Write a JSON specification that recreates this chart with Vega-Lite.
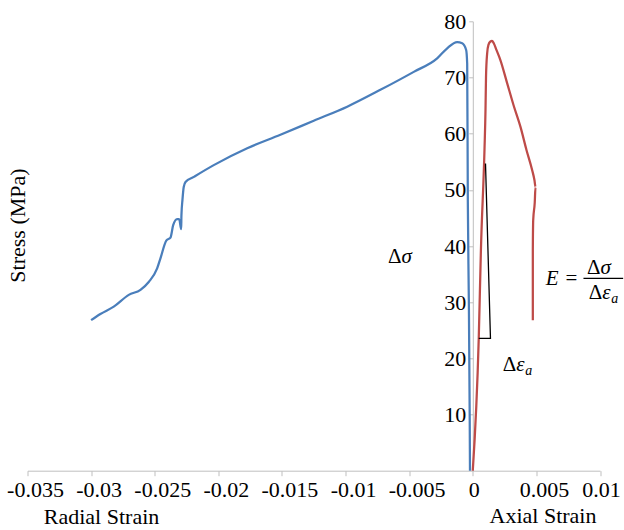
{
  "$schema": "https://vega.github.io/schema/vega-lite/v6.json",
  "width": 572.5,
  "height": 449.4,
  "autosize": {"type": "none"},
  "padding": {"left": 27.5, "top": 21.3, "right": 24, "bottom": 59.3},
  "background": "white",
  "config": {"view": {"stroke": null}, "font": "Liberation Serif, Times New Roman, serif"},
  "datasets": {
    "curves": [
      {"series": "Radial", "i": 0, "strain": -0.03000, "stress": 26.8},
      {"series": "Radial", "i": 1, "strain": -0.02927, "stress": 27.9},
      {"series": "Radial", "i": 2, "strain": -0.02822, "stress": 29.2},
      {"series": "Radial", "i": 3, "strain": -0.02704, "stress": 31.3},
      {"series": "Radial", "i": 4, "strain": -0.02612, "stress": 32.2},
      {"series": "Radial", "i": 5, "strain": -0.02547, "stress": 33.6},
      {"series": "Radial", "i": 6, "strain": -0.02481, "stress": 36.0},
      {"series": "Radial", "i": 7, "strain": -0.02455, "stress": 37.8},
      {"series": "Radial", "i": 8, "strain": -0.02408, "stress": 41.0},
      {"series": "Radial", "i": 9, "strain": -0.02376, "stress": 41.5},
      {"series": "Radial", "i": 10, "strain": -0.02355, "stress": 43.7},
      {"series": "Radial", "i": 11, "strain": -0.02324, "stress": 44.8},
      {"series": "Radial", "i": 12, "strain": -0.02308, "stress": 44.8},
      {"series": "Radial", "i": 13, "strain": -0.02292, "stress": 43.0},
      {"series": "Radial", "i": 14, "strain": -0.02290, "stress": 45.5},
      {"series": "Radial", "i": 15, "strain": -0.02282, "stress": 48.2},
      {"series": "Radial", "i": 16, "strain": -0.02272, "stress": 50.5},
      {"series": "Radial", "i": 17, "strain": -0.02258, "stress": 51.4},
      {"series": "Radial", "i": 18, "strain": -0.02193, "stress": 52.3},
      {"series": "Radial", "i": 19, "strain": -0.02036, "stress": 54.4},
      {"series": "Radial", "i": 20, "strain": -0.01773, "stress": 57.4},
      {"series": "Radial", "i": 21, "strain": -0.01512, "stress": 59.8},
      {"series": "Radial", "i": 22, "strain": -0.01250, "stress": 62.3},
      {"series": "Radial", "i": 23, "strain": -0.00987, "stress": 64.8},
      {"series": "Radial", "i": 24, "strain": -0.00726, "stress": 67.8},
      {"series": "Radial", "i": 25, "strain": -0.00464, "stress": 71.0},
      {"series": "Radial", "i": 26, "strain": -0.00280, "stress": 73.4},
      {"series": "Radial", "i": 27, "strain": -0.00201, "stress": 75.2},
      {"series": "Radial", "i": 28, "strain": -0.00123, "stress": 76.3},
      {"series": "Radial", "i": 29, "strain": -0.00083, "stress": 76.1},
      {"series": "Radial", "i": 30, "strain": -0.00052, "stress": 74.9},
      {"series": "Radial", "i": 31, "strain": -0.00044, "stress": 72.5},
      {"series": "Radial", "i": 32, "strain": -0.00039, "stress": 48.2},
      {"series": "Radial", "i": 33, "strain": -0.00031, "stress": 30.4},
      {"series": "Radial", "i": 34, "strain": -0.00024, "stress": 9.0},
      {"series": "Radial", "i": 35, "strain": -0.00022, "stress": 0},
      {"series": "Axial", "i": 0, "strain": 0, "stress": 0},
      {"series": "Axial", "i": 1, "strain": 0.00047, "stress": 23.6},
      {"series": "Axial", "i": 2, "strain": 0.00064, "stress": 39.3},
      {"series": "Axial", "i": 3, "strain": 0.00092, "stress": 57.1},
      {"series": "Axial", "i": 4, "strain": 0.00100, "stress": 64.2},
      {"series": "Axial", "i": 5, "strain": 0.00104, "stress": 70.1},
      {"series": "Axial", "i": 6, "strain": 0.00113, "stress": 74.3},
      {"series": "Axial", "i": 7, "strain": 0.00123, "stress": 75.8},
      {"series": "Axial", "i": 8, "strain": 0.00139, "stress": 76.4},
      {"series": "Axial", "i": 9, "strain": 0.00151, "stress": 76.5},
      {"series": "Axial", "i": 10, "strain": 0.00165, "stress": 76.1},
      {"series": "Axial", "i": 11, "strain": 0.00186, "stress": 74.9},
      {"series": "Axial", "i": 12, "strain": 0.00217, "stress": 73.1},
      {"series": "Axial", "i": 13, "strain": 0.00270, "stress": 69.0},
      {"series": "Axial", "i": 14, "strain": 0.00320, "stress": 65.1},
      {"series": "Axial", "i": 15, "strain": 0.00375, "stress": 61.2},
      {"series": "Axial", "i": 16, "strain": 0.00422, "stress": 57.1},
      {"series": "Axial", "i": 17, "strain": 0.00467, "stress": 53.5},
      {"series": "Axial", "i": 18, "strain": 0.00485, "stress": 51.7},
      {"series": "Axial", "i": 19, "strain": 0.00493, "stress": 50.5},
      {"series": "Axial", "i": 20, "strain": 0.00487, "stress": 47.7},
      {"series": "Axial", "i": 21, "strain": 0.00475, "stress": 44.6},
      {"series": "Axial", "i": 22, "strain": 0.00472, "stress": 39.3},
      {"series": "Axial", "i": 23, "strain": 0.00472, "stress": 26.8}
    ],
    "triangle": [
      {"i": 0, "strain": 0.00047, "stress": 23.57},
      {"i": 1, "strain": 0.00139, "stress": 23.57},
      {"i": 2, "strain": 0.00100, "stress": 54.7}
    ],
    "bar": [
      {"strain": 0.0087, "strain2": 0.01182, "stress": 34.25}
    ],
    "ann": [
      {"strain": -0.0056, "stress": 38.0, "up": "Δ", "it": "σ"},
      {"strain": 0.00341, "stress": 18.8, "up": "Δ", "it": "ε", "sub": "a"},
      {"strain": 0.01004, "stress": 36.0, "up": "Δ", "it": "σ"},
      {"strain": 0.01017, "stress": 31.6, "up": "Δ", "it": "ε", "sub": "a"},
      {"strain": 0.00573, "stress": 34.1, "it": "E"},
      {"strain": 0.00821, "stress": 34.1, "up": "="}
    ],
    "titles": [
      {"strain": 0.00552, "stress": -9.36, "label": "Axial Strain"}
    ]
  },
  "layer": [
    {
      "data": {"name": "curves"},
      "mark": {"type": "line", "strokeWidth": 2.25, "interpolate": "monotone"},
      "encoding": {
        "x": {
          "field": "strain", "type": "quantitative",
          "scale": {"domain": [-0.035, 0.01], "nice": false, "zero": false},
          "axis": {
            "values": [-0.035, -0.03, -0.025, -0.02, -0.015, -0.01, -0.005, 0, 0.005, 0.01],
            "labelExpr": "'' + datum.value",
            "grid": false,
            "domainColor": "#bfbfbf",
            "tickColor": "#bfbfbf",
            "tickSize": 5,
            "labelFont": "Liberation Serif, Times New Roman, serif",
            "labelFontSize": 22,
            "labelColor": "black",
            "labelPadding": 3.5,
            "labelOffset": {"condition": {"test": "datum.value == 0 || datum.value == 0.01", "value": 1}, "value": 7.5},
            "labelFlush": false,
            "labelOverlap": false,
            "title": "Radial Strain",
            "titleFont": "Liberation Serif, Times New Roman, serif",
            "titleFontSize": 22,
            "titleFontWeight": "normal",
            "titleColor": "black",
            "titleAlign": "left",
            "titleBaseline": "alphabetic",
            "titleX": 15.8,
            "titleY": 52.6
          }
        },
        "y": {
          "field": "stress", "type": "quantitative",
          "scale": {"domain": [0, 80], "nice": false},
          "axis": {
            "values": [10, 20, 30, 40, 50, 60, 70, 80],
            "offset": -445.3,
            "grid": false,
            "domainColor": "#bfbfbf",
            "tickColor": "#bfbfbf",
            "tickSize": 4,
            "labelFont": "Liberation Serif, Times New Roman, serif",
            "labelFontSize": 22,
            "labelColor": "black",
            "labelPadding": 3,
            "title": "Stress (MPa)",
            "titleFont": "Liberation Serif, Times New Roman, serif",
            "titleFontSize": 22,
            "titleFontWeight": "normal",
            "titleColor": "black",
            "titleAngle": -90,
            "titleAlign": "center",
            "titleBaseline": "middle",
            "titleX": -455.8,
            "titleY": 203.7
          }
        },
        "color": {
          "field": "series", "type": "nominal",
          "scale": {"domain": ["Radial", "Axial"], "range": ["#4a7ebb", "#be4b48"]},
          "legend": null
        },
        "order": {"field": "i", "type": "quantitative"}
      }
    },
    {
      "data": {"name": "triangle"},
      "mark": {"type": "line", "color": "black", "strokeWidth": 1.3},
      "encoding": {
        "x": {"field": "strain", "type": "quantitative"},
        "y": {"field": "stress", "type": "quantitative"},
        "order": {"field": "i", "type": "quantitative"}
      }
    },
    {
      "data": {"name": "bar"},
      "mark": {"type": "rule", "color": "black", "strokeWidth": 1.2},
      "encoding": {
        "x": {"field": "strain", "type": "quantitative"},
        "x2": {"field": "strain2"},
        "y": {"field": "stress", "type": "quantitative"}
      }
    },
    {
      "data": {"name": "ann"},
      "transform": [{"filter": "isValid(datum.up)"}],
      "mark": {"type": "text", "font": "Liberation Serif, Times New Roman, serif", "fontSize": 21, "align": "right", "baseline": "middle", "color": "black"},
      "encoding": {
        "x": {"field": "strain", "type": "quantitative"},
        "y": {"field": "stress", "type": "quantitative"},
        "text": {"field": "up", "type": "nominal"}
      }
    },
    {
      "data": {"name": "ann"},
      "transform": [{"filter": "isValid(datum.it)"}],
      "mark": {"type": "text", "font": "Liberation Serif, Times New Roman, serif", "fontSize": 21, "fontStyle": "italic", "align": "left", "baseline": "middle", "color": "black"},
      "encoding": {
        "x": {"field": "strain", "type": "quantitative"},
        "y": {"field": "stress", "type": "quantitative"},
        "text": {"field": "it", "type": "nominal"}
      }
    },
    {
      "data": {"name": "ann"},
      "transform": [{"filter": "isValid(datum.sub)"}],
      "mark": {"type": "text", "font": "Liberation Serif, Times New Roman, serif", "fontSize": 14, "fontStyle": "italic", "align": "left", "baseline": "middle", "dx": 9, "dy": 6, "color": "black"},
      "encoding": {
        "x": {"field": "strain", "type": "quantitative"},
        "y": {"field": "stress", "type": "quantitative"},
        "text": {"field": "sub", "type": "nominal"}
      }
    },
    {
      "data": {"name": "titles"},
      "mark": {"type": "text", "font": "Liberation Serif, Times New Roman, serif", "fontSize": 22, "align": "center", "baseline": "alphabetic", "color": "black"},
      "encoding": {
        "x": {"field": "strain", "type": "quantitative"},
        "y": {"field": "stress", "type": "quantitative"},
        "text": {"field": "label", "type": "nominal"}
      }
    }
  ]
}
